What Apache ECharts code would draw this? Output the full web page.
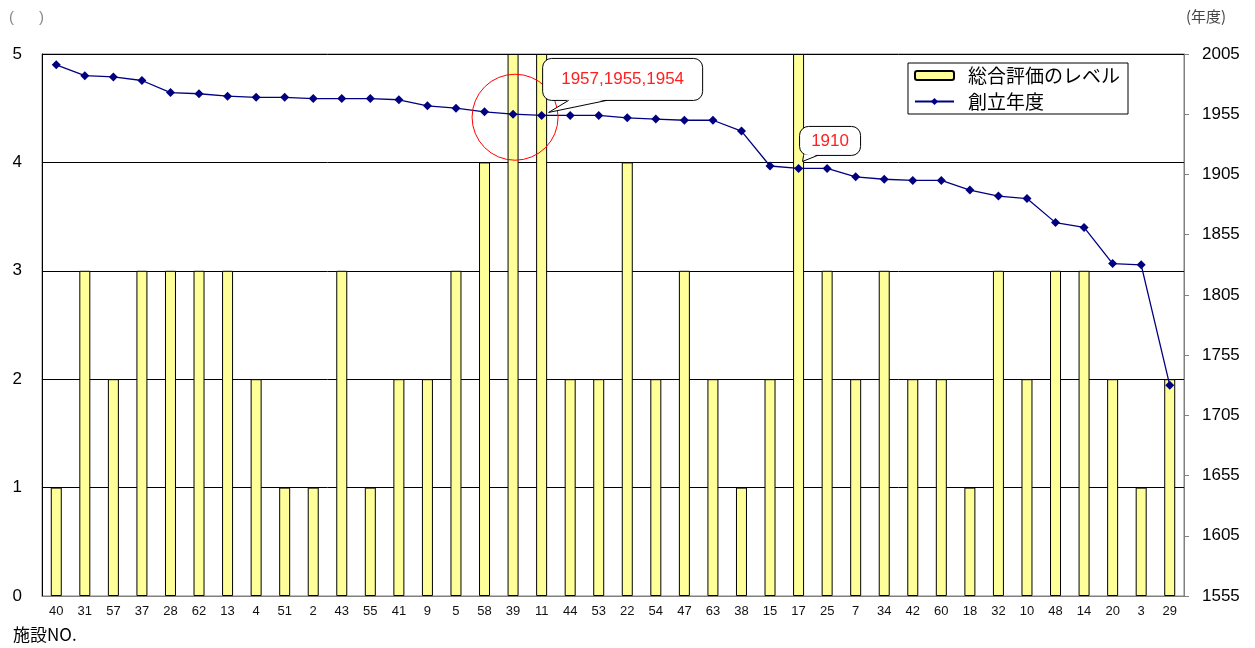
<!DOCTYPE html>
<html>
<head>
<meta charset="utf-8">
<script src="https://cdn.jsdelivr.net/npm/echarts@6/dist/echarts.min.js"></script>
<style>
  html, body { margin: 0; padding: 0; background: #fff; }
  #main { width: 1255px; height: 648px; }
</style>
</head>
<body>
<div id="main"></div>
<script>
// 施設NO.（並び順そのまま）
var shisetsu = ['40','31','57','37','28','62','13','4','51','2','43','55','41','9','5','58','39','11','44','53',
                '22','54','47','63','38','15','17','25','7','34','42','60','18','32','10','48','14','20','3','29'];
// 総合評価のレベル
var level = [1,3,2,3,3,3,3,2,1,1,3,1,2,2,3,4,5,5,2,2,
             4,2,3,2,1,2,5,3,2,3,2,2,1,3,2,3,3,2,1,2];
// 創立年度
var nendo = [1996,1987,1986,1983,1973,1972,1970,1969,1969,1968,1968,1968,1967,1962,1960,1957,1955,1954,1954,1954,
             1952,1951,1950,1950,1941,1912,1910,1910,1903,1901,1900,1900,1892,1887,1885,1865,1861,1831,1830,1730];
var levelTicks = [0, 5, 1];
var nendoTicks = [1555, 2005, 50];

var font = '"Liberation Sans", Arial, sans-serif';
var jfont = '"Noto Sans CJK JP", sans-serif';

var myChart = echarts.init(document.getElementById('main'));

var option = {
    animation: false,
    backgroundColor: '#fff',
    grid: { left: 42, right: 71, top: 54, bottom: 52, show: true, borderColor: '#808080', borderWidth: 1 },
    legend: {
        orient: 'vertical',
        right: 127, top: 63,
        itemWidth: 39, itemHeight: 9, itemGap: 7,
        padding: [3, 8, 3, 6],
        borderColor: '#000', borderWidth: 1,
        textStyle: { fontFamily: jfont, fontSize: 19, color: '#000', padding: [0, 0, 0, 9] },
        data: ['総合評価のレベル', '創立年度']
    },
    xAxis: {
        type: 'category',
        data: shisetsu,
        axisLine: { lineStyle: { color: '#808080' } },
        axisTick: { show: false },
        axisLabel: { interval: 0, margin: 9, fontFamily: font, fontSize: 13, color: '#111' }
    },
    yAxis: [{
        type: 'value',
        min: levelTicks[0], max: levelTicks[1], interval: levelTicks[2],
        axisLine: { show: true, lineStyle: { color: '#000' } },
        axisTick: { show: false },
        splitLine: { lineStyle: { color: '#000', width: 1 } },
        axisLabel: { margin: 20, fontFamily: font, fontSize: 17, color: '#000' }
    }, {
        type: 'value',
        min: nendoTicks[0], max: nendoTicks[1], interval: nendoTicks[2],
        axisLine: { show: true, lineStyle: { color: '#808080' } },
        axisTick: { show: true, inside: false, length: 5, lineStyle: { color: '#808080' } },
        splitLine: { show: false },
        axisLabel: { margin: 18, fontFamily: font, fontSize: 17, color: '#000',
                     formatter: function (v) { return String(v); } }
    }],
    series: [{
        name: '総合評価のレベル',
        type: 'bar',
        data: level,
        barWidth: 11,
        itemStyle: { color: '#FFFF99', borderColor: '#000', borderWidth: 1 }
    }, {
        name: '創立年度',
        type: 'line',
        yAxisIndex: 1,
        data: nendo,
        symbol: 'diamond',
        symbolSize: 9,
        lineStyle: { color: '#000080', width: 1.3 },
        itemStyle: { color: '#000080' }
    }],
    graphic: [
        { type: 'text', left: 9, top: 10, style: { text: '(      )', font: '15px ' + font, fill: '#888' } },
        { type: 'text', left: 1186, top: 9, style: { text: '(年度)', font: '15px ' + jfont, fill: '#444' } },
        { type: 'text', left: 13, top: 626, style: { text: '施設NO.', font: '17px ' + jfont, fill: '#000' } }
    ]
};
myChart.setOption(option);

// 吹き出しと丸印（データ点の位置から）
function callout(idx, text, w, h, dy, baseA, baseB, tipDx, tipDy) {
    var p = myChart.convertToPixel({ seriesIndex: 1 }, [idx, nendo[idx]]);
    var x0 = p[0] + 1, y0 = p[1] + dy;
    var tip = [p[0] + tipDx, p[1] + tipDy];
    return [
        { type: 'rect', shape: { x: x0, y: y0, width: w, height: h, r: 9 },
          style: { fill: '#fff', stroke: '#000', lineWidth: 1 }, z: 100 },
        { type: 'polygon', shape: { points: [[x0 + baseA, y0 + h - 1], tip, [x0 + baseB, y0 + h - 1]] },
          style: { fill: '#fff' }, z: 101 },
        { type: 'polyline', shape: { points: [[x0 + baseA, y0 + h], tip, [x0 + baseB, y0 + h]] },
          style: { stroke: '#000', lineWidth: 1, fill: null }, z: 102 },
        { type: 'text', x: x0 + w / 2, y: y0 + h / 2, z: 103,
          style: { text: text, font: '17px ' + font, fill: '#ff2020', align: 'center', verticalAlign: 'middle' } }
    ];
}
var p39 = myChart.convertToPixel({ seriesIndex: 1 }, [16, nendo[16]]);
var extra = [
    { type: 'circle', shape: { cx: p39[0] + 2, cy: p39[1] + 3, r: 43 },
      style: { fill: null, stroke: '#ff0000', lineWidth: 1 }, z: 99 }
].concat(
    callout(17, '1957,1955,1954', 160, 42, -57, 26, 64, 7, -3),
    callout(26, '1910', 61, 29, -42, 4, 18, 4, -7)
);
myChart.setOption({ graphic: option.graphic.concat(extra) });
</script>
</body>
</html>
